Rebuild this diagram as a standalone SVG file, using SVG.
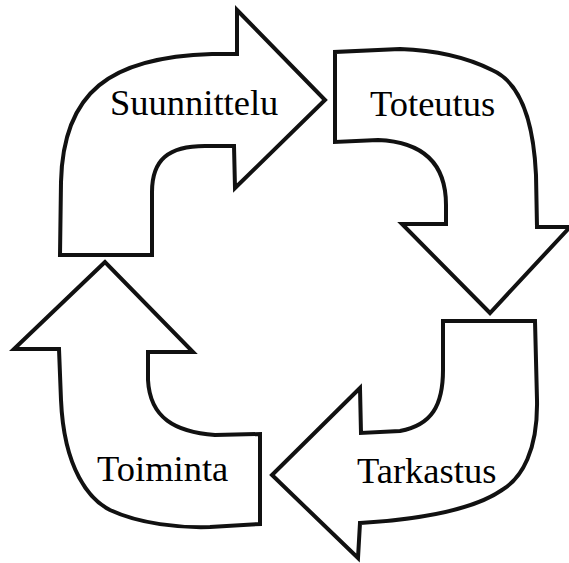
<svg xmlns="http://www.w3.org/2000/svg" width="569" height="563" viewBox="0 0 569 563">
<style>
.arrow{fill:#fff;stroke:#111;stroke-width:4;stroke-linejoin:miter;stroke-miterlimit:10}
.lbl{font-family:"Liberation Serif","Times New Roman",serif;font-size:36.5px;fill:#000}
.par{font-family:"Liberation Serif","Times New Roman",serif;font-size:36px;fill:#222}
</style>
<rect width="569" height="563" fill="#fff"/>
<g id="clipped-top">
<text class="par" x="12" y="-8">(</text>
<text class="par" x="92" y="-8">)</text>
<text class="par" x="125" y="-8">(</text>
<text class="par" x="427" y="-8">)</text>
</g>
<g id="connectors"></g>
<g id="suunnittelu">
<path class="arrow" d="M60,255 L152,255 L152,192 C152,160 168,146 205,146 L234,146 L235,188 L325,100 L237,10 L237,54 L212,54 C110,57 63,92 61,182 Z"/>
<text class="lbl" x="110" y="115">Suunnittelu</text>
</g>
<g id="toteutus">
<path class="arrow" d="M335,52 L335,142 L378,140 C425,142 446,165 446,205 L446,224 L402,224 L490,313 L570,227 L537,227 L536,175 C533,110 515,80 492,70 C462,55 430,50 400,49 Z"/>
<text class="lbl" x="370" y="116">Toteutus</text>
</g>
<g id="tarkastus">
<path class="arrow" d="M443,321 L535,321 L537,400 C538,450 522,478 502,490 C470,512 410,520 360,523 L358,558 L272,475 L360,388 L361,433 L400,431 C432,425 443,405 443,370 Z"/>
<text class="lbl" x="357" y="483">Tarkastus</text>
</g>
<g id="toiminta">
<path class="arrow" d="M105,262 L14,349 L59,349 L61,400 C64,470 90,500 110,510 C140,524 180,528 210,527 L260,524 L260,434 L215,435 C175,432 150,418 148,380 L148,352 L193,352 Z"/>
<text class="lbl" x="97" y="481">Toiminta</text>
</g>
</svg>
